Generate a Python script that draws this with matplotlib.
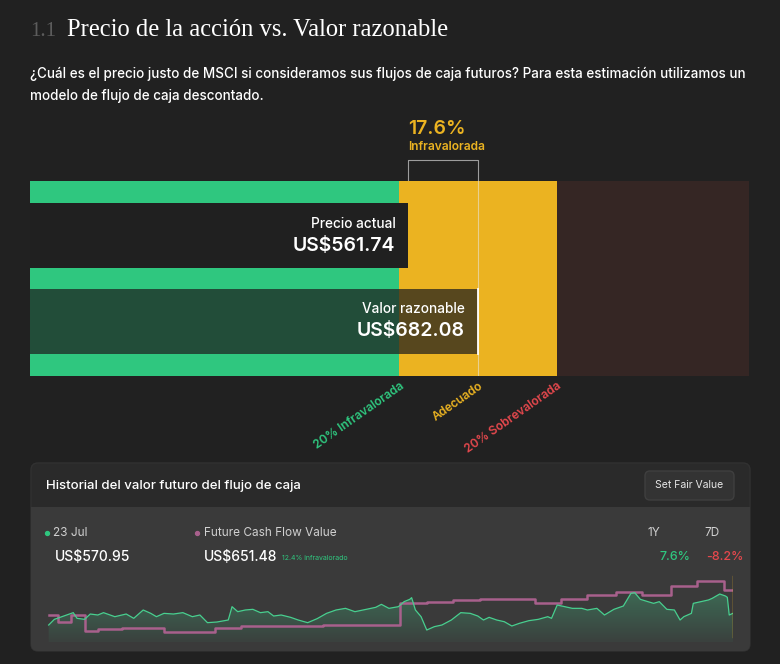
import numpy as np
import matplotlib.pyplot as plt
from matplotlib import transforms
from matplotlib.patches import FancyBboxPatch, Rectangle
from matplotlib.colors import LinearSegmentedColormap

plt.rcParams['font.family'] = ['Inter', 'DejaVu Sans']

# valoración actual
precio_actual = 561.74
valor_razonable = 682.08
zona_etiquetas = ['20% Infravalorada', 'Adecuado', '20% Sobrevalorada']

# historial: días desde el inicio del año, precio (US$)
precio_dias = [3, 6, 10, 16, 18, 22, 25, 29, 32, 38,
               44, 48, 53, 57, 60, 64, 69, 74, 79, 83,
               87, 92, 98, 100, 103, 107, 111, 115, 119, 122,
               126, 131, 135, 140, 145, 150, 155, 160, 165, 171,
               176, 179, 183, 188, 191, 194, 195, 197, 200, 203,
               207, 211, 216, 221, 226, 230, 233, 236, 240, 244,
               248, 252, 257, 262, 267, 269, 272, 276, 280, 285,
               288, 293, 297, 302, 307, 311, 313, 316, 320, 323,
               326, 330, 334, 337, 339, 343, 344, 348, 352, 354,
               358, 361, 362, 363, 365]
precio_valores = [530.5, 550.1, 559.3, 573.2, 553.6, 550.1, 568.5, 565.1, 573.2, 559.3,
                  568.5, 553.6, 582.4, 570.8, 559.3, 570.8, 568.5, 573.2, 559.3, 565.1,
                  538.6, 540.9, 547.8, 593.9, 576.6, 582.4, 584.7, 573.2, 576.6, 561.6,
                  565.1, 557.0, 547.8, 538.6, 552.4, 570.8, 582.4, 588.1, 576.6, 584.7,
                  591.6, 601.9, 588.1, 593.9, 611.2, 619.2, 625.0, 582.4, 559.3, 513.2,
                  524.8, 530.5, 547.8, 573.2, 570.8, 561.6, 547.8, 557.0, 547.8, 542.0,
                  527.1, 536.3, 545.5, 550.1, 559.3, 553.6, 599.6, 593.9, 588.1, 588.1,
                  582.4, 588.1, 565.1, 584.7, 596.2, 640.0, 642.3, 619.2, 611.2, 605.4,
                  611.2, 584.7, 582.4, 547.8, 559.3, 570.8, 605.4, 611.2, 617.0, 622.7,
                  637.7, 630.8, 626.1, 565.1, 570.95]

# valor del flujo de caja futuro (escalones)
fcf_dias = [3, 8, 15, 22, 29, 42, 64, 91, 105, 148, 189, 203, 217, 231,
            260, 274, 288, 303, 317, 332, 346, 360, 365]
fcf_valores = [565.1, 541.9, 565.1, 510.8, 516.7, 520.2, 507.4, 519.1, 527.1, 530.5,
               607.6, 611.0, 616.9, 620.4, 605.5, 620.4, 634.2, 645.6, 634.2, 666.3,
               682.08, 651.48, 651.48]

fecha_actual = '23 Jul'
precio_hoy = 570.95
fcf_hoy = 651.48
cambio_1y = 7.6
cambio_7d = -8.2

BG = '#212121'
GREEN = '#2fc77f'
YELLOW = '#ebb321'
BROWN = '#352624'
RED = '#e5484d'
PINK = '#a8608c'

fig = plt.figure(figsize=(7.8, 6.64), dpi=100)
fig.patch.set_facecolor(BG)
bg = fig.add_axes([0, 0, 1, 1])
bg.set_xlim(0, 780)
bg.set_ylim(664, 0)
bg.axis('off')


def px_axes(x0, y0, x1, y1):
    return fig.add_axes([x0 / 780, 1 - y1 / 664, (x1 - x0) / 780, (y1 - y0) / 664])


# title + intro
bg.text(30, 31, '1.1', color='#5c5c5c', fontsize=15, family='Liberation Serif', va='center')
bg.text(67, 30, 'Precio de la acción vs. Valor razonable', color='white', fontsize=17.7,
        family='Liberation Serif', va='center')
bg.text(30, 74, '¿Cuál es el precio justo de MSCI si consideramos sus flujos de caja futuros? '
        'Para esta estimación utilizamos un', color='white', fontsize=9.7, weight='medium', va='center')
bg.text(30, 96, 'modelo de flujo de caja descontado.', color='white', fontsize=9.7, weight='medium',
        va='center')

# valuation bar
ax = px_axes(30, 181, 749, 376)
ax.set_xlim(-92, 1150)
ax.set_ylim(376, 181)
ax.axis('off')
left, right = ax.get_xlim()
lo, hi = 0.8 * valor_razonable, 1.2 * valor_razonable
ax.axvspan(left, lo, color=GREEN, lw=0)
ax.axvspan(lo, hi, color=YELLOW, lw=0)
ax.axvspan(hi, right, color=BROWN, lw=0)
ax.barh(235.5, precio_actual - left, left=left, height=65, color='#202020', lw=0)
ax.barh(321.5, valor_razonable - left, left=left, height=65, color='#1e1e1e', alpha=0.72, lw=0)
ax.axvline(valor_razonable, color='#e8e8e8', lw=0.8, alpha=0.55)
ax.plot([valor_razonable] * 2, [289, 354], color='white', lw=1.3)

ax.annotate('Precio actual', (precio_actual, 224), xytext=(-13, 0), textcoords='offset pixels',
            ha='right', va='center', color='white', fontsize=9.8, weight='medium')
ax.annotate(f'US${precio_actual:.2f}', (precio_actual, 246), xytext=(-13, 0), textcoords='offset pixels',
            ha='right', va='center', color='white', fontsize=14, weight='semibold')
ax.annotate('Valor razonable', (valor_razonable, 309), xytext=(-13, 0), textcoords='offset pixels',
            ha='right', va='center', color='white', fontsize=9.8, weight='medium')
ax.annotate(f'US${valor_razonable:.2f}', (valor_razonable, 331), xytext=(-13, 0), textcoords='offset pixels',
            ha='right', va='center', color='white', fontsize=14, weight='semibold')

trans = transforms.blended_transform_factory(ax.transData, bg.transData)
bg.plot([precio_actual, precio_actual, valor_razonable, valor_razonable], [181, 160, 160, 181],
        transform=trans, color='#bdbdbd', lw=0.8, alpha=0.8)
descuento = (valor_razonable - precio_actual) / valor_razonable * 100
bg.text(precio_actual, 129, f'{descuento:.1f}%', transform=trans, color=YELLOW, fontsize=14,
        weight='semibold', va='center')
bg.text(precio_actual, 147, 'Infravalorada', transform=trans, color=YELLOW, fontsize=8.6,
        weight='semibold', va='center')

for xv, lab, col in zip([lo, valor_razonable, hi], zona_etiquetas, [GREEN, YELLOW, RED]):
    bg.text(xv, 380, lab, transform=trans, rotation=35, rotation_mode='anchor', ha='right', va='top',
            color=col, fontsize=8.6, weight='semibold')

# history card
bg.add_patch(FancyBboxPatch((31, 463), 719, 188, boxstyle='round,pad=0,rounding_size=7',
                            fc='#2a2a2a', ec='#313131', lw=1))
bg.add_patch(FancyBboxPatch((31, 507), 719, 144, boxstyle='round,pad=0,rounding_size=7',
                            fc='#3a3a3a', ec='none'))
bg.add_patch(Rectangle((31, 507), 719, 20, fc='#3a3a3a', ec='none'))
bg.text(46, 486, 'Historial del valor futuro del flujo de caja', color='white', fontsize=9.5,
        weight='medium', va='center')
bg.add_patch(FancyBboxPatch((645, 471), 89, 29, boxstyle='round,pad=0,rounding_size=5',
                            fc='#333333', ec='#3f3f3f', lw=1))
bg.text(689.5, 485.5, 'Set Fair Value', color='#e6e6e6', fontsize=7.5, ha='center', va='center')

bg.scatter([47], [533], s=8, color=GREEN)
bg.text(53, 533, fecha_actual, color='#d0d0d0', fontsize=8.5, va='center')
bg.text(55, 557, f'US${precio_hoy:.2f}', color='white', fontsize=10, weight='medium', va='center')
bg.scatter([197], [533], s=8, color=PINK)
bg.text(204, 533, 'Future Cash Flow Value', color='#d0d0d0', fontsize=8.5, va='center')
bg.text(204, 557, f'US${fcf_hoy:.2f}', color='white', fontsize=10, weight='medium', va='center')
infra = (fcf_hoy - precio_hoy) / fcf_hoy * 100
bg.text(282, 558, f'{infra:.1f}% infravalorado', color=GREEN, fontsize=5, va='center')
bg.text(648, 533, '1Y', color='#d0d0d0', fontsize=8.5, va='center')
bg.text(704, 533, '7D', color='#d0d0d0', fontsize=8.5, va='center')
bg.text(660, 557, f'{cambio_1y:.1f}%', color=GREEN, fontsize=9, weight='medium', va='center')
bg.text(706, 557, f'{cambio_7d:.1f}%', color=RED, fontsize=9, weight='medium', va='center')

hx = px_axes(43, 570, 733, 642)
hx.set_xlim(0, 365)
hx.set_ylim(471.8, 720.6)
hx.axis('off')
ymin = hx.get_ylim()[0]
poly = hx.fill_between(precio_dias, precio_valores, ymin, color='none', lw=0)
cmap = LinearSegmentedColormap.from_list('g', [(0.26, 0.79, 0.54, 0.05), (0.26, 0.79, 0.54, 0.33)])
grad = np.linspace(0, 1, 256).reshape(-1, 1)
im = hx.imshow(grad, extent=[0, 365, ymin, max(precio_valores)], origin='lower', aspect='auto', cmap=cmap)
im.set_clip_path(poly.get_paths()[0], transform=hx.transData)
hx.set_xlim(0, 365)
hx.set_ylim(471.8, 720.6)
hx.step(fcf_dias, fcf_valores, where='post', color=PINK, lw=1.8)
hx.plot(precio_dias, precio_valores, color='#48cf8f', lw=0.9)
hx.axvline(precio_dias[-1], ymin=0.07, ymax=0.92, color=YELLOW, lw=1)

fig.savefig('out.png', dpi=100, facecolor=BG)
